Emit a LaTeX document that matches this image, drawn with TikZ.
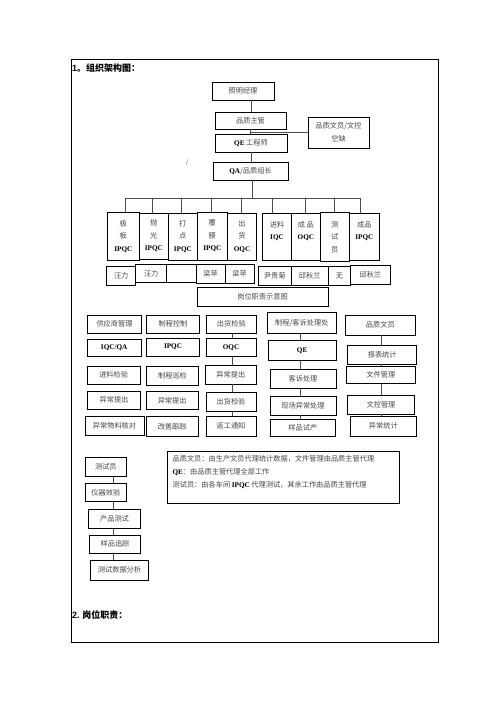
\documentclass[tikz,border=0pt]{standalone}
\usepackage{fontspec}
\setmainfont{Noto Sans CJK SC}
\newfontfamily\latserif{Liberation Serif}
\newfontfamily\latsans{Liberation Sans}
\newcommand\latb[1]{{\latserif\bfseries\color{black}#1}}
\newcommand\mybox[7][]{\node[box,#1,minimum width={(#5-#3)*1pt},minimum height={(#6-#4)*1pt}] (#2) at ({(#3+#5)/2},{(#4+#6)/2}) {#7};}
\tikzset{
  box/.style={draw, line width=0.8pt, inner sep=0pt, text=black!72, align=center, font=\fontsize{7.2}{12.5}\selectfont},
  conn/.style={draw=black!70, line width=0.7pt},
  title/.style={anchor=west, inner sep=0pt, font=\fontsize{9}{10}\selectfont\bfseries},
}
\begin{document}
\begin{tikzpicture}[x=1pt,y=-1pt]
\useasboundingbox (0,0) rectangle (496,702);
\fill[white] (0,0) rectangle (496,702);
% frame
\draw[line width=0.8pt] (71.7,59) rectangle (438.5,642.3);
\node[title] (h1) at (72,68.5) {{\latsans 1}。组织架构图：};
\node[title] (h2) at (72,615) {{\latsans 2.} 岗位职责：};
\node[inner sep=0pt, text=black!60, font=\fontsize{6}{6}\selectfont] (mk) at (187,163) {/};
% top chain
\mybox{zm}{212}{82}{274}{100}{照明经理}
\mybox{pz}{215}{112}{286}{129}{品质主管}
\mybox[font=\fontsize{7.2}{13}\selectfont]{wy}{308}{117}{369}{148}{品质文员/文控\\空缺}
\mybox{qe}{215}{134}{287}{152}{\latb{QE} 工程师}
\mybox{qa}{213}{162}{288}{180}{\latb{QA}/品质组长}
\coordinate (xa) at (251,0);
\coordinate (xb) at (250,132);
\draw[conn] (zm.south -| xa) -- (pz.north -| xa);
\draw[conn] (pz.south -| xb) -- (qe.north -| xb);
\draw[conn] (xb) -- (wy.west |- xb);
\draw[conn] (qe.south -| xa) -- (qa.north -| xa);
% tier
\mybox{t1}{107.3}{212.3}{139.3}{260}{极\\板\\\latb{IPQC}}
\mybox{t2}{139.3}{213}{168.3}{259}{抛\\光\\\latb{IPQC}}
\mybox{t3}{168.3}{213}{197.3}{260}{打\\点\\\latb{IPQC}}
\mybox{t4}{197.3}{212}{227.3}{260}{覆\\膜\\\latb{IPQC}}
\mybox{t5}{227.3}{213}{256.7}{260}{出\\货\\\latb{OQC}}
\mybox{t6}{262.3}{213}{291.7}{260}{进料\\\latb{IQC}\\~}
\mybox{t7}{291.7}{213}{320}{260}{成 品\\\latb{OQC}\\~}
\mybox{t8}{320}{212}{349.3}{261.7}{测\\试\\员}
\mybox{t9}{349.3}{213}{379.3}{260}{成品\\\latb{IPQC}\\~}
\coordinate (bus) at (252,198);
\draw[conn] (qa.south -| bus) -- (bus);
\draw[conn] (125.7,198) -- (360,198);
\draw[conn] (t1.north -| 125.7,0) -- (bus -| 125.7,0);
\draw[conn] (t2.north -| 152.7,0) -- (bus -| 152.7,0);
\draw[conn] (t3.north -| 181.7,0) -- (bus -| 181.7,0);
\draw[conn] (t4.north -| 211,0) -- (bus -| 211,0);
\draw[conn] (t5.north -| 241.7,0) -- (bus -| 241.7,0);
\draw[conn] (t6.north -| 272.3,0) -- (bus -| 272.3,0);
\draw[conn] (t7.north -| 305,0) -- (bus -| 305,0);
\draw[conn] (t8.north -| 334,0) -- (bus -| 334,0);
\draw[conn] (t9.north -| 360,0) -- (bus -| 360,0);
% names
\mybox{n1}{106.7}{266}{135.7}{285}{汪力}
\mybox{n2}{135.7}{264}{166.7}{282.7}{汪力}
\mybox{n3}{166.7}{264}{196}{282.7}{}
\mybox{n4}{196}{264}{225}{283}{梁苹}
\mybox{n5}{225}{264}{254.3}{283}{梁苹}
\mybox{n6}{258.3}{266}{291}{285}{尹贵菊}
\mybox{n7}{291}{266}{328.3}{285}{邱秋兰}
\mybox{n8}{328.3}{266}{350.7}{285}{无}
\mybox{n9}{350.7}{265}{390}{284}{邱秋兰}
\mybox{gw}{197}{287}{328}{306}{岗位职责示意图}
% column 1
\mybox{a1}{87.3}{315}{141.7}{333.3}{供应商管理}
\mybox{a2}{87.3}{339}{141}{356.7}{\latb{IQC/QA}}
\mybox{a3}{87.3}{366}{140}{384}{进料检验}
\mybox{a4}{87.3}{391}{140.7}{409}{异常提出}
\mybox{a5}{85}{416}{144}{435}{异常物料核对}
% column 2
\mybox{b1}{146.7}{315}{199.3}{333.3}{制程控制}
\mybox{b2}{146.7}{338.3}{199.3}{356}{\raisebox{3pt}{\latb{IPQC}}}
\mybox{b3}{146.7}{366}{198.3}{385}{制程巡检}
\mybox{b4}{146}{391.7}{198.3}{409.3}{异常提出}
\mybox{b5}{146}{416.7}{198.3}{436}{改善跟踪}
% column 3
\mybox{c1}{206.7}{315}{256}{333.3}{出货检验}
\mybox{c2}{206}{338}{256}{356.7}{\latb{OQC}}
\mybox{c3}{205}{365}{256.7}{384}{异常提出}
\mybox{c4}{206}{392.7}{256}{411.7}{出货检验}
\mybox{c5}{206}{416}{256}{436}{返工通知}
\coordinate (xc) at (232.7,0);
\draw[conn] (c1.south -| xc) -- (c2.north -| xc);
\draw[conn] (c2.south -| xc) -- (c3.north -| xc);
\draw[conn] (c3.south -| xc) -- (c4.north -| xc);
\draw[conn] (c4.south -| xc) -- (c5.north -| xc);
% column 4
\mybox{d1}{267.7}{312.7}{336}{333.3}{制程/客诉处理处}
\mybox{d2}{268.3}{340.7}{336}{360.7}{\latb{QE}}
\mybox{d3}{270}{369}{336}{388.3}{客诉处理}
\mybox{d4}{270}{396}{336}{415}{现场异常处理}
\mybox{d5}{270.7}{419.3}{335}{436.7}{样品试产}
\coordinate (xd) at (300,0);
\draw[conn] (d1.south -| xd) -- (d2.north -| xd);
\draw[conn] (d2.south -| xd) -- (d3.north -| xd);
\draw[conn] (d3.south -| xd) -- (d4.north -| xd);
\draw[conn] (d4.south -| xd) -- (d5.north -| xd);
% column 5
\mybox{e1}{345.7}{315}{415}{335}{品质文员}
\mybox{e2}{347.7}{345}{416.7}{364}{报表统计}
\mybox{e3}{346.7}{366.7}{415}{383.3}{文件管理}
\mybox{e4}{347.7}{395}{414.3}{414}{文控管理}
\mybox{e5}{350}{416}{416.7}{436}{异常统计}
\coordinate (xe) at (381,0);
\draw[conn] (e1.south -| xe) -- (e2.north -| xe);
\draw[conn] (e2.south -| xe) -- (e3.north -| xe);
\draw[conn] (e3.south -| xe) -- (e4.north -| xe);
\draw[conn] (e4.south -| xe) -- (e5.north -| xe);
% test column
\mybox{f1}{85}{457.3}{126.7}{476.7}{测试员}
\mybox{f2}{85}{483.3}{126.7}{501.7}{仪器效验}
\mybox{f3}{88.3}{509.3}{140.7}{528.3}{产品测试}
\mybox{f4}{89.3}{535}{140.7}{553.3}{样品追踪}
\mybox{f5}{90.7}{560}{148.3}{580}{测试数据分析}
\coordinate (xf) at (113.5,0);
\draw[conn] (f1.south -| xf) -- (f2.north -| xf);
\draw[conn] (f2.south -| xf) -- (f3.north -| xf);
\draw[conn] (f3.south -| xf) -- (f4.north -| xf);
\draw[conn] (f4.south -| xf) -- (f5.north -| xf);
% note box
\mybox{tb}{167.3}{451.7}{399.3}{503.3}{}
\node[anchor=north west, inner sep=0pt, align=left, text=black!72, font=\fontsize{7.2}{13.3}\selectfont] (tbt) at ([shift={(5.5,3.5)}]tb.north west)
 {品质文员：由生产文员代理统计数据，文件管理由品质主管代理\\
  \latb{QE}：由品质主管代理全部工作\\
  测试员：由各车间 \latb{IPQC} 代理测试，其余工作由品质主管代理};
\end{tikzpicture}
\end{document}
